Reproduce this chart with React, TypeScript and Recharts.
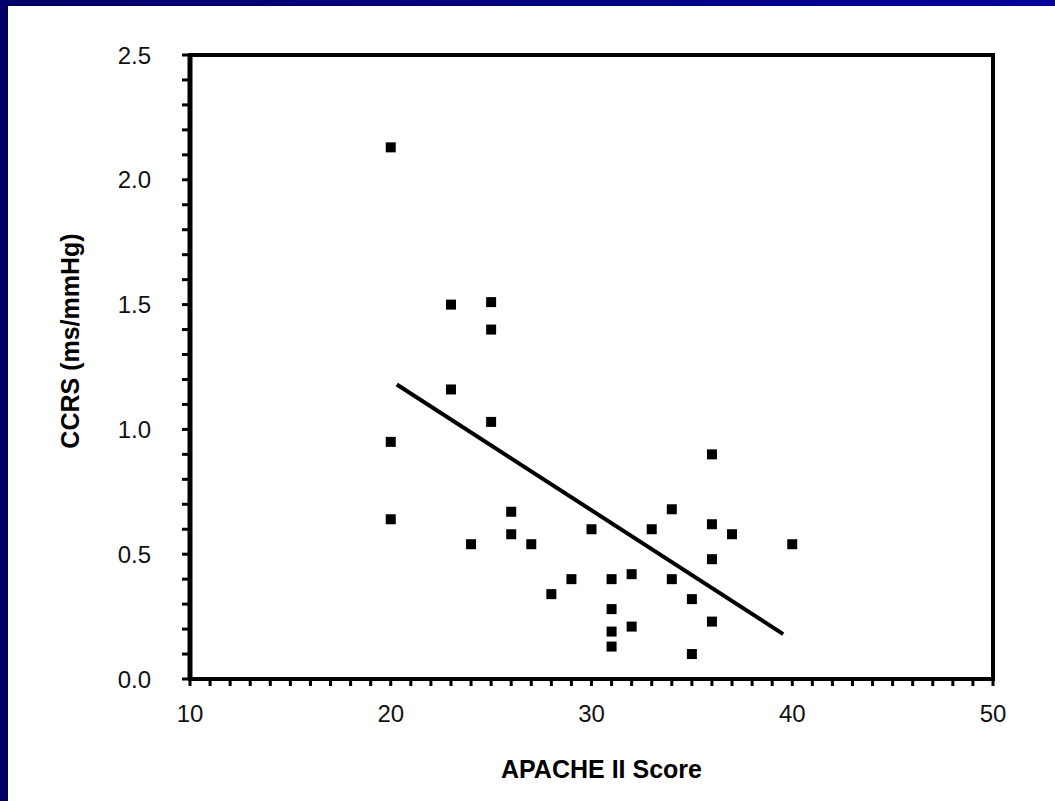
import React from "react";
import {
  ScatterChart,
  Scatter,
  XAxis,
  YAxis,
  ReferenceArea,
  Label,
} from "recharts";

// APACHE II score vs CCRS
const apacheScores = [
  20, 23, 25, 25, 23, 25, 20, 20, 24, 26, 26, 27, 28, 29, 30, 31,
  31, 31, 31, 32, 32, 33, 34, 34, 35, 35, 36, 36, 36, 36, 37, 40,
];
const ccrsValues = [
  2.13, 1.5, 1.51, 1.4, 1.16, 1.03, 0.95, 0.64, 0.54, 0.67, 0.58, 0.54, 0.34, 0.4, 0.6, 0.4,
  0.28, 0.19, 0.13, 0.42, 0.21, 0.6, 0.68, 0.4, 0.32, 0.1, 0.9, 0.62, 0.48, 0.23, 0.58, 0.54,
];

// regression line end points
const fitX = [20.3, 39.55];
const fitY = [1.18, 0.18];

const xTicks = [
  10, 11, 12, 13, 14, 15, 16, 17, 18, 19, 20, 21, 22, 23, 24, 25, 26, 27, 28, 29, 30,
  31, 32, 33, 34, 35, 36, 37, 38, 39, 40, 41, 42, 43, 44, 45, 46, 47, 48, 49, 50,
];
const xLabels = [10, 20, 30, 40, 50];
const yTicks = [
  0, 0.1, 0.2, 0.3, 0.4, 0.5, 0.6, 0.7, 0.8, 0.9, 1.0, 1.1, 1.2, 1.3, 1.4, 1.5, 1.6,
  1.7, 1.8, 1.9, 2.0, 2.1, 2.2, 2.3, 2.4, 2.5,
];
const yLabels = [0, 0.5, 1.0, 1.5, 2.0, 2.5];

const points = apacheScores.map((x, i) => ({ x, y: ccrsValues[i] }));
const fitLine = fitX.map((x, i) => ({ x, y: fitY[i] }));

const FONT = "'Liberation Sans', Arial, Helvetica, sans-serif";

const XTick = (props: any) => {
  const { x, y, payload } = props;
  if (!xLabels.includes(payload.value)) return <g />;
  return (
    <text x={x} y={y} dy="0.71em" textAnchor="middle" fontSize={24} fontFamily={FONT} fill="#111">
      {payload.value}
    </text>
  );
};

const YTick = (props: any) => {
  const { x, y, payload } = props;
  const v = Math.round(payload.value * 10) / 10;
  if (!yLabels.includes(v)) return <g />;
  return (
    <text x={x} y={y} dy="0.355em" textAnchor="end" fontSize={24} fontFamily={FONT} fill="#111">
      {v.toFixed(1)}
    </text>
  );
};

const SquareDot = (props: any) => {
  const { cx, cy } = props;
  if (cx == null || cy == null) return <g />;
  return <rect x={cx - 5} y={cy - 5} width={10} height={10} fill="#000" />;
};

export default function App() {
  return (
    <div
      style={{
        position: "absolute",
        left: 0,
        top: 0,
        width: 1055,
        height: 801,
        background: "#fff",
        overflow: "hidden",
      }}
    >
      <div style={{ position: "absolute", left: 0, top: 0, width: 8, height: 801, background: "#000068" }} />
      <div
        style={{
          position: "absolute",
          left: 0,
          top: 0,
          width: 1055,
          height: 6,
          background: "linear-gradient(to right, #000068, #00009c)",
        }}
      />
      <div style={{ position: "absolute", left: 0, top: 0 }}>
        <ScatterChart
          width={1055}
          height={801}
          margin={{ top: 55, right: 62, bottom: 0, left: 0 }}
        >
          <XAxis
            type="number"
            dataKey="x"
            domain={[10, 50]}
            ticks={xTicks}
            interval={0}
            height={122}
            axisLine={{ stroke: "#000", strokeWidth: 4 }}
            tickLine={{ stroke: "#000", strokeWidth: 3 }}
            tickSize={7}
            tickMargin={19}
            tick={<XTick />}
          >
            <Label
              content={(p: any) => {
                const vb = p.viewBox;
                return (
                  <text
                    x={vb.x + vb.width / 2 + 10}
                    y={778}
                    textAnchor="middle"
                    fontSize={25}
                    fontWeight="bold"
                    fontFamily={FONT}
                    fill="#000"
                  >
                    APACHE II Score
                  </text>
                );
              }}
            />
          </XAxis>
          <YAxis
            type="number"
            dataKey="y"
            domain={[0, 2.5]}
            ticks={yTicks}
            interval={0}
            width={190}
            axisLine={{ stroke: "#000", strokeWidth: 5 }}
            tickLine={{ stroke: "#000", strokeWidth: 3 }}
            tickSize={8}
            tickMargin={31}
            tick={<YTick />}
          >
            <Label
              content={() => (
                <text
                  x={79}
                  y={341}
                  transform="rotate(-90, 79, 341)"
                  textAnchor="middle"
                  fontSize={25}
                  fontWeight="bold"
                  fontFamily={FONT}
                  fill="#000"
                >
                  CCRS (ms/mmHg)
                </text>
              )}
            />
          </YAxis>
          <ReferenceArea
            x1={10}
            x2={50}
            y1={0}
            y2={2.5}
            fill="none"
            fillOpacity={0}
            stroke="#000"
            strokeWidth={4}
          />
          <Scatter
            data={fitLine}
            line={{ stroke: "#000", strokeWidth: 4 }}
            shape={() => <g />}
            isAnimationActive={false}
          />
          <Scatter data={points} shape={<SquareDot />} isAnimationActive={false} />
        </ScatterChart>
      </div>
    </div>
  );
}
